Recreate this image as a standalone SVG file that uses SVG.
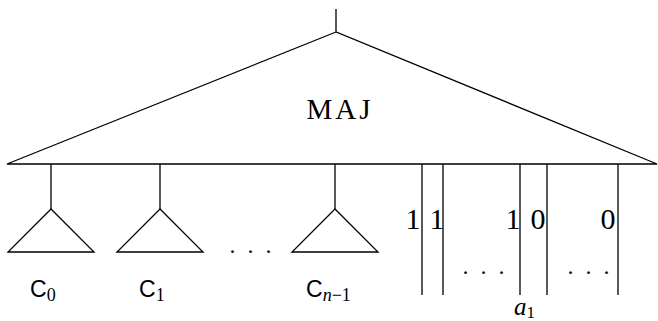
<svg xmlns="http://www.w3.org/2000/svg" width="658" height="321" viewBox="0 0 658 321">
<style>
.ln{stroke:#000;stroke-width:1.3;fill:none}
.serif{font-family:"Liberation Serif","DejaVu Serif",serif;fill:#000}
.sans{font-family:"Liberation Sans","DejaVu Sans",sans-serif;fill:#000}
.it{font-style:italic}
.dots{font-family:"Liberation Serif","DejaVu Serif",serif;fill:#000;font-size:24px;text-anchor:middle;letter-spacing:3px}
</style>
<rect width="658" height="321" fill="#fff"/>
<g id="maj">
<path class="ln" d="M336,9 V32 M336,32 L7,164 H657 Z"/>
<text class="serif" x="340" y="119" font-size="29" text-anchor="middle" letter-spacing="3">MAJ</text>
</g>
<g id="connectors">
<line class="ln" x1="51" y1="164" x2="51" y2="209"/>
<line class="ln" x1="160" y1="164" x2="160" y2="209"/>
<line class="ln" x1="335" y1="164" x2="335" y2="209"/>
<line class="ln" x1="422" y1="164" x2="422" y2="295"/>
<line class="ln" x1="443" y1="164" x2="443" y2="295"/>
<line class="ln" x1="520" y1="164" x2="520" y2="295"/>
<line class="ln" x1="547" y1="164" x2="547" y2="295"/>
<line class="ln" x1="618" y1="164" x2="618" y2="295"/>
</g>
<g id="c0">
<path class="ln" d="M51,209 L8,252 H94 Z"/>
<text class="sans" x="30" y="297" font-size="23">C<tspan class="serif" font-size="18" dy="4">0</tspan></text>
</g>
<g id="c1">
<path class="ln" d="M160,209 L117,252 H203 Z"/>
<text class="sans" x="139" y="297" font-size="23">C<tspan class="serif" font-size="18" dy="4">1</tspan></text>
</g>
<g id="cdots">
<text class="dots" x="252" y="253">. . .</text>
</g>
<g id="cn1">
<path class="ln" d="M335,209 L292,252 H378 Z"/>
<text class="sans" x="306" y="297" font-size="23">C<tspan class="serif it" font-size="18" dy="4">n</tspan><tspan class="serif" font-size="18">−1</tspan></text>
</g>
<g id="bits">
<text class="serif" x="413" y="229" font-size="30" text-anchor="middle">1</text>
<text class="serif" x="437" y="229" font-size="30" text-anchor="middle">1</text>
<text class="serif" x="513" y="229" font-size="30" text-anchor="middle">1</text>
<text class="serif" x="538" y="229" font-size="30" text-anchor="middle">0</text>
<text class="serif" x="608" y="229" font-size="30" text-anchor="middle">0</text>
<text class="dots" x="485" y="274">. . .</text>
<text class="dots" x="590" y="274">. . .</text>
<text class="serif it" x="514" y="315" font-size="25">a<tspan class="serif" font-style="normal" font-size="17" dy="3">1</tspan></text>
</g>
</svg>
